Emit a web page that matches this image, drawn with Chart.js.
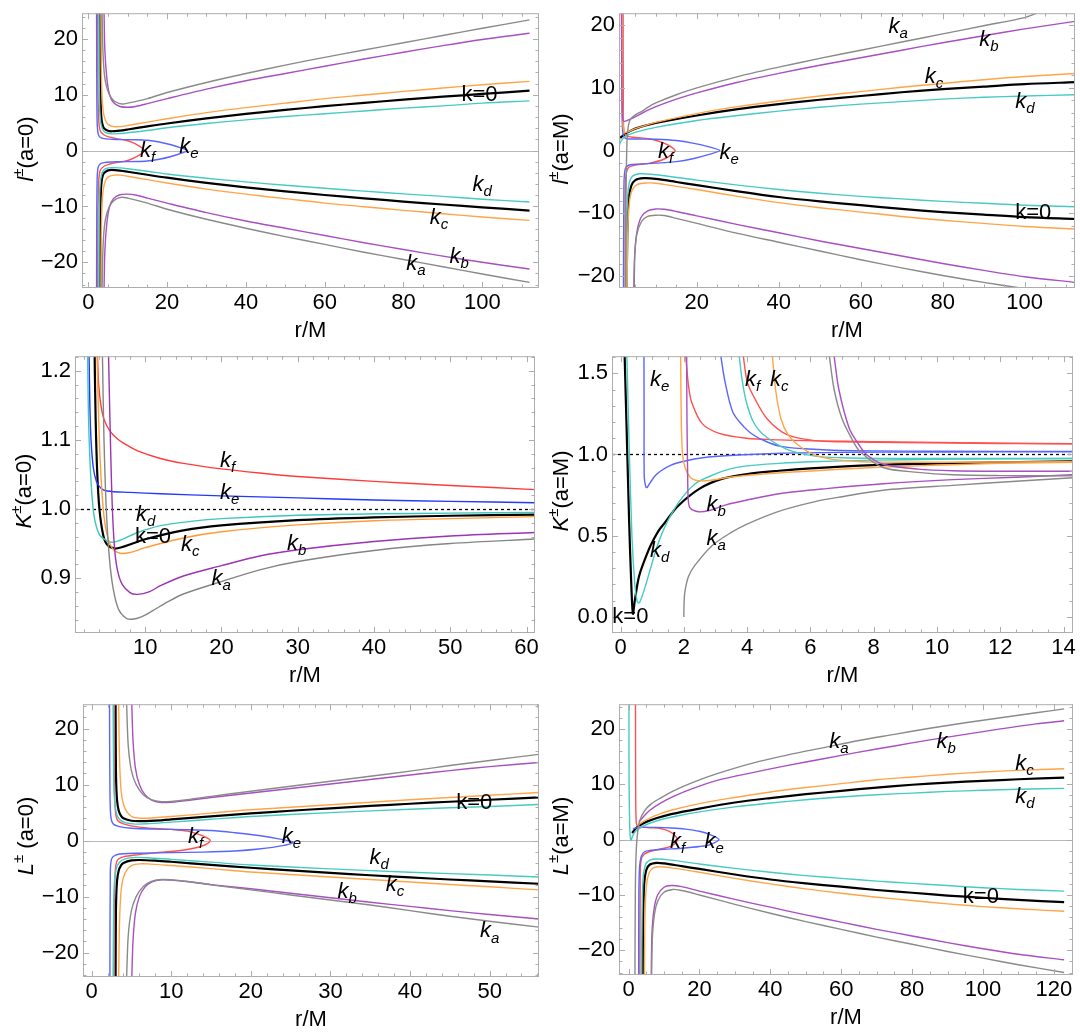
<!DOCTYPE html>
<html>
<head>
<meta charset="utf-8">
<script src="https://cdn.jsdelivr.net/npm/chart.js@4.4.1/dist/chart.umd.min.js"></script>
<style>
  html, body { margin: 0; padding: 0; background: #fff; }
  body { width: 1080px; height: 1034px; position: relative; overflow: hidden; }
  .panel { position: absolute; }
</style>
</head>
<body>
<script>
// ---- l±(a=0) ----
const lA0_ka_p = [[3.5,24.6],[3.7,18],[4.1,13.5],[4.8,11],[5.8,9.5],[7,8.7],[8.5,8.35],[10,8.5],[15,9.3],[20,10.4],[30,12.2],[40,13.8],[50,15.3],[60,16.7],[70,18.0],[80,19.3],[90,20.6],[100,21.9],[112,23.4]];
const lA0_ka_m = [[3.5,-24.6],[3.7,-18],[4.1,-13.5],[4.8,-11],[5.8,-9.5],[7,-8.7],[8.5,-8.35],[10,-8.5],[15,-9.4],[20,-10.5],[30,-12.3],[40,-13.9],[50,-15.4],[60,-16.8],[70,-18.2],[80,-19.5],[90,-20.8],[100,-22.1],[112,-23.6]];
const lA0_kb_p = [[4.0,24.6],[4.2,18],[4.7,13],[5.4,10],[6.4,8.6],[8,7.9],[10,7.75],[12,7.9],[15,8.4],[20,9.3],[30,11.0],[40,12.5],[50,13.8],[60,15.1],[70,16.4],[80,17.6],[90,18.8],[100,19.9],[112,21.0]];
const lA0_kb_m = [[4.0,-24.6],[4.2,-18],[4.7,-13],[5.4,-10],[6.4,-8.6],[8,-7.9],[10,-7.8],[12,-7.95],[15,-8.5],[20,-9.4],[30,-11.1],[40,-12.6],[50,-13.9],[60,-15.2],[70,-16.5],[80,-17.7],[90,-18.9],[100,-20.0],[112,-21.2]];
const lA0_kc_p = [[3.2,24.6],[3.3,15],[3.5,9.5],[3.8,7],[4.3,5.5],[5,4.7],[6.5,4.3],[8,4.3],[10,4.5],[15,5.1],[20,5.7],[30,6.8],[40,7.7],[50,8.5],[60,9.3],[70,9.95],[80,10.6],[90,11.2],[100,11.8],[112,12.4]];
const lA0_kc_m = [[3.2,-24.6],[3.3,-15],[3.5,-9.5],[3.8,-7],[4.3,-5.5],[5,-4.75],[6.5,-4.4],[8,-4.4],[10,-4.6],[15,-5.2],[20,-5.8],[30,-6.9],[40,-7.8],[50,-8.6],[60,-9.4],[70,-10.05],[80,-10.7],[90,-11.3],[100,-11.9],[112,-12.5]];
const lA0_k0_p = [[3.015,24.6],[3.02,21.4],[3.05,13.6],[3.1,9.8],[3.2,7.16],[3.4,5.38],[3.7,4.42],[4,4.0],[5,3.54],[6,3.46],[8,3.58],[10,3.78],[15,4.33],[20,4.85],[30,5.77],[40,6.58],[50,7.29],[60,7.95],[70,8.55],[80,9.12],[90,9.65],[100,10.15],[112,10.73]];
const lA0_k0_m = [[3.015,-24.6],[3.02,-21.4],[3.05,-13.6],[3.1,-9.8],[3.2,-7.16],[3.4,-5.38],[3.7,-4.42],[4,-4.0],[5,-3.54],[6,-3.46],[8,-3.58],[10,-3.78],[15,-4.33],[20,-4.85],[30,-5.77],[40,-6.58],[50,-7.29],[60,-7.95],[70,-8.55],[80,-9.12],[90,-9.65],[100,-10.15],[112,-10.73]];
const lA0_kd_p = [[2.7,24.6],[2.75,14],[2.85,8.5],[3.0,6],[3.3,4.5],[3.8,3.6],[4.5,3.2],[6,3.0],[8,3.05],[10,3.2],[15,3.6],[20,4.1],[30,4.85],[40,5.5],[50,6.1],[60,6.6],[70,7.1],[80,7.6],[90,8.0],[100,8.5],[112,8.9]];
const lA0_kd_m = [[2.7,-24.6],[2.75,-14],[2.85,-8.5],[3.0,-6],[3.3,-4.5],[3.8,-3.6],[4.5,-3.2],[6,-3.05],[8,-3.1],[10,-3.25],[15,-3.7],[20,-4.2],[30,-4.95],[40,-5.6],[50,-6.2],[60,-6.75],[70,-7.25],[80,-7.75],[90,-8.2],[100,-8.7],[112,-9.2]];
const lA0_ke = [[2.1,24.6],[2.15,12],[2.25,5],[2.5,3.0],[3,2.4],[4,2.15],[7,2.0],[12,1.95],[15,1.85],[18,1.55],[21,1.05],[23.5,0.5],[25.2,0],[23.5,-0.5],[21,-1.05],[18,-1.55],[15,-1.85],[12,-1.95],[7,-2.0],[4,-2.15],[3,-2.4],[2.5,-3.0],[2.25,-5],[2.15,-12],[2.1,-24.6]];
const lA0_kf = [[2.4,24.6],[2.45,12],[2.6,6],[3,3.6],[4,2.8],[5.5,2.4],[7.5,2.1],[9.5,1.85],[11,1.5],[12.5,1.0],[13.6,0.5],[14.2,0],[13.6,-0.5],[12.5,-1.0],[11,-1.5],[9.5,-1.85],[7.5,-2.1],[5.5,-2.4],[4,-2.8],[3,-3.6],[2.6,-6],[2.45,-12],[2.4,-24.6]];
const lA0_tags = [['0',94.7,9.9],['d',97.5,-6.1],['c',86.7,-12.0],['b',91.7,-19.1],['a',80.7,-20.3],['f',13.1,0],['e',23.1,0.7]];

// ---- l±(a=M) ----
const lAM_ka_p = [[2.6,-21.9],[2.65,-12],[2.75,-5],[2.85,-1],[3.0,2],[3.3,4],[3.8,5.0],[5,5.7],[6.7,6.3],[8,6.9],[10,7.6],[15,8.9],[20,10.0],[30,11.8],[40,13.3],[50,14.7],[60,16.0],[70,17.3],[80,18.6],[90,19.9],[100,21.2],[103,21.9]];
const lAM_ka_m = [[4.6,-21.9],[4.8,-17],[5.3,-13.5],[6.5,-11.3],[8,-10.5],[10,-10.3],[12,-10.35],[15,-10.8],[20,-11.6],[30,-13.2],[40,-14.6],[50,-16.0],[60,-17.4],[70,-18.7],[80,-19.9],[90,-21.0],[99,-21.9]];
const lAM_kb_p = [[1.6,21.9],[1.7,10],[1.85,5.5],[2.1,4.7],[3,4.8],[5,5.4],[7,6.1],[10,7.0],[15,8.2],[20,9.2],[30,10.9],[40,12.3],[50,13.6],[60,14.8],[70,16.0],[80,17.2],[90,18.3],[100,19.4],[112.3,20.6]];
const lAM_kb_m = [[4.7,-21.9],[4.9,-16],[5.5,-12.5],[6.5,-10.5],[8,-9.6],[10,-9.3],[12,-9.35],[15,-9.7],[20,-10.4],[30,-11.8],[40,-13.1],[50,-14.4],[60,-15.6],[70,-16.8],[80,-18.0],[90,-19.1],[100,-20.1],[112.3,-21.0]];
const lAM_kc_p = [[1.75,21.9],[1.8,10],[1.95,4.5],[2.3,3.0],[3,2.95],[5,3.5],[10,4.5],[20,5.9],[30,7.0],[40,7.9],[50,8.7],[60,9.4],[70,10.1],[80,10.7],[90,11.3],[100,11.8],[112.3,12.3]];
const lAM_kc_m = [[3.0,-21.9],[3.1,-14],[3.5,-8.5],[4.2,-6.3],[5.5,-5.4],[8,-5.15],[10,-5.2],[15,-5.7],[20,-6.2],[30,-7.3],[40,-8.3],[50,-9.1],[60,-9.8],[70,-10.5],[80,-11.1],[90,-11.6],[100,-12.1],[112.3,-12.5]];
const lAM_k0_p = [[1.0,1.85],[1.5,2.15],[2,2.4],[3,2.85],[5,3.5],[10,4.4],[20,5.6],[30,6.6],[40,7.4],[50,8.1],[60,8.7],[70,9.3],[80,9.8],[90,10.2],[100,10.6],[112.3,10.9]];
const lAM_k0_m = [[2.9,-21.9],[3.0,-14],[3.3,-8],[4,-5.6],[5,-4.7],[7,-4.4],[10,-4.5],[15,-5.0],[20,-5.5],[30,-6.5],[40,-7.4],[50,-8.1],[60,-8.7],[70,-9.3],[80,-9.8],[90,-10.2],[100,-10.6],[112.3,-10.9]];
const lAM_kd_p = [[1.0,0.7],[1.5,1.5],[2.5,2.25],[4,2.7],[6,3.1],[10,3.7],[20,4.8],[30,5.6],[40,6.3],[50,6.9],[60,7.4],[70,7.8],[80,8.2],[90,8.5],[100,8.7],[112.3,8.9]];
const lAM_kd_m = [[2.8,-21.9],[2.9,-12],[3.2,-6.5],[4,-4.3],[6,-3.7],[10,-3.85],[20,-4.7],[30,-5.5],[40,-6.2],[50,-6.8],[60,-7.3],[70,-7.7],[80,-8.1],[90,-8.4],[100,-8.7],[112.3,-8.95]];
const lAM_ke = [[1.7,21.9],[1.75,8],[1.9,3],[2.5,2.0],[5,1.85],[10,1.8],[15,1.6],[19,1.2],[23,0.6],[25.6,0],[23,-0.6],[19,-1.3],[15,-1.75],[10,-2.0],[6,-2.15],[3.5,-2.3],[2.5,-3.0],[2.2,-6],[2.1,-21.9]];
const lAM_kf = [[2.0,21.9],[2.05,8],[2.2,3.2],[3,2.3],[6,2.05],[9,1.8],[11.5,1.3],[13.5,0.7],[14.7,0],[13.5,-0.8],[11.5,-1.5],[8.5,-2.0],[5,-2.3],[3.2,-2.8],[2.6,-5],[2.5,-21.9]];
const lAM_tags = [['a',66.8,19.7],['b',88.9,17.7],['c',75.6,11.8],['d',97.7,7.8],['0',97.7,-9.95],['f',10.5,-0.26],['e',25.5,-0.4]];

// ---- K±(a=0) ----
const KA0_kf = [[3.75,1.221],[3.9,1.18],[4.2,1.15],[4.6,1.13],[5.3,1.114],[6.3,1.102],[7.5,1.093],[9,1.084],[12,1.073],[15,1.066],[20,1.058],[25,1.052],[30,1.047],[40,1.04],[50,1.034],[61.1,1.028]];
const KA0_ke = [[2.65,1.221],[2.75,1.15],[2.9,1.1],[3.2,1.06],[3.6,1.04],[4.2,1.03],[5,1.026],[8,1.024],[12,1.022],[20,1.019],[30,1.016],[40,1.013],[50,1.011],[61.1,1.009]];
const KA0_kd = [[2.45,1.221],[2.6,1.12],[2.9,1.04],[3.3,0.99],[4,0.963],[5,0.954],[5.8,0.952],[7,0.956],[9,0.966],[12,0.976],[16,0.982],[20,0.986],[30,0.991],[40,0.993],[50,0.994],[61.1,0.995]];
const KA0_k0 = [[3.38,1.221],[3.4,1.2],[3.5,1.134],[3.7,1.056],[4,1.0],[4.5,0.962],[5,0.9487],[6,0.9428],[7,0.945],[8,0.9487],[10,0.9562],[15,0.969],[20,0.9762],[30,0.9838],[40,0.9878],[50,0.9902],[61.1,0.9919]];
const KA0_kc = [[3.7,1.221],[3.85,1.15],[4.1,1.07],[4.5,1.0],[5,0.963],[5.7,0.943],[6.7,0.936],[8,0.937],[10,0.944],[15,0.958],[20,0.967],[30,0.977],[40,0.983],[50,0.986],[61.1,0.989]];
const KA0_ka = [[4.4,1.221],[4.6,1.1],[4.9,1.0],[5.3,0.93],[5.8,0.885],[6.5,0.855],[7.5,0.842],[8.3,0.8405],[9.5,0.844],[11,0.853],[13,0.866],[15,0.877],[20,0.895],[25,0.912],[30,0.924],[40,0.94],[50,0.95],[61.1,0.9565]];
const KA0_kb = [[5.2,1.221],[5.4,1.12],[5.7,1.0],[6.1,0.93],[6.8,0.895],[8,0.879],[9,0.8765],[10.5,0.88],[12,0.889],[15,0.903],[20,0.918],[25,0.932],[30,0.941],[40,0.953],[50,0.961],[61.1,0.966]];
const KA0_tags = [['f',19.8,1.069],['e',19.8,1.023],['d',8.8,0.9916],['0',8.65,0.960],['c',14.7,0.9486],['b',28.6,0.9495],['a',18.7,0.8995]];

// ---- K±(a=M) ----
const KAM_k0 = [[0.13,1.605],[0.2,1.1],[0.27,0.6],[0.33,0.25],[0.39,0.02],[0.45,0.1],[0.55,0.22],[0.63,0.28],[0.8,0.37],[0.95,0.44],[1.2,0.53],[1.4,0.58],[1.8,0.68],[2.5,0.79],[3.2,0.85],[4,0.88],[5,0.9],[6,0.915],[8,0.935],[10,0.945],[12,0.952],[14.3,0.958]];
const KAM_kd1 = [[0.2,1.605],[0.28,1.0],[0.36,0.5],[0.45,0.2],[0.52,0.1],[0.58,0.085],[0.65,0.11],[0.8,0.2],[0.95,0.3],[1.15,0.43],[1.39,0.55],[1.82,0.70],[2.36,0.82],[3,0.88],[3.44,0.91],[4,0.93],[5,0.945],[6,0.955],[8,0.965],[10,0.97],[14.3,0.975]];
const KAM_kd2 = [[3.75,1.605],[3.85,1.45],[3.98,1.32],[4.2,1.2],[4.53,1.12],[5.28,1.03],[6.15,0.99],[7,0.98],[8.3,0.976],[10,0.975],[14.3,0.975]];
const KAM_ke1 = [[0.74,1.605],[0.745,1.2],[0.75,0.86],[0.8,0.8],[0.84,0.797],[0.95,0.83],[1.1,0.87],[1.28,0.9],[1.6,0.935],[2.04,0.96],[2.6,0.98],[3.44,0.994],[5.07,1.008],[7,1.013],[10,1.015],[14.3,1.017]];
const KAM_ke2 = [[3.17,1.605],[3.3,1.45],[3.55,1.26],[3.9,1.17],[4.2,1.12],[4.6,1.08],[5.07,1.05],[5.8,1.035],[6.7,1.026],[8,1.022],[10,1.02],[14.3,1.019]];
const KAM_kc1 = [[1.9,1.605],[1.92,1.2],[1.96,1.0],[2.04,0.92],[2.2,0.86],[2.41,0.84],[2.8,0.84],[3.44,0.86],[4.5,0.88],[6.15,0.9],[8,0.92],[9.4,0.93],[12,0.945],[14.3,0.952]];
const KAM_kc2 = [[4.8,1.605],[4.9,1.4],[5.07,1.22],[5.3,1.12],[5.6,1.06],[6.1,1.0],[6.7,0.97],[7.5,0.957],[8.3,0.953],[10,0.952],[14.3,0.955]];
const KAM_kb1 = [[2.09,1.605],[2.1,1.2],[2.12,0.9],[2.14,0.72],[2.2,0.67],[2.47,0.647],[2.8,0.655],[3.33,0.69],[4,0.72],[5.07,0.76],[6.5,0.79],[8.3,0.82],[10.5,0.845],[12.5,0.86],[14.3,0.875]];
const KAM_kb2 = [[6.75,1.605],[6.9,1.4],[7.23,1.16],[7.5,1.07],[7.77,1.0],[8.3,0.94],[9.4,0.91],[10.5,0.9],[12,0.897],[14.3,0.897]];
const KAM_ka1 = [[2.0,0.0],[2.01,0.1],[2.04,0.163],[2.15,0.25],[2.36,0.32],[2.9,0.44],[3.5,0.52],[3.98,0.57],[5,0.65],[6.15,0.71],[7,0.74],[8.3,0.78],[10.5,0.81],[12.5,0.835],[14.3,0.857]];
const KAM_ka2 = [[6.6,1.605],[6.75,1.4],[7.0,1.22],[7.3,1.1],[7.56,1.02],[8.3,0.92],[9.4,0.89],[10.5,0.875],[12,0.87],[14.3,0.868]];
const KAM_kf1 = [[2.06,1.605],[2.15,1.42],[2.25,1.32],[2.58,1.19],[3.12,1.13],[3.98,1.1],[5,1.09],[6.15,1.084],[8,1.079],[9.4,1.076],[12,1.07],[14.3,1.066]];
const KAM_kf2 = [[3.88,1.605],[4.0,1.45],[4.2,1.36],[4.63,1.22],[5.28,1.12],[6.15,1.085],[7,1.078],[9,1.073],[12,1.068],[14.3,1.066]];
const KAM_tags = [['e',0.93,1.462],['f',3.93,1.462],['c',4.72,1.462],['b',2.72,0.691],['a',2.72,0.482],['d',0.93,0.406],['0',-0.26,0.0]];

// ---- L±(a=0) ----
const LA0_ka_p = [[4.4,24.35],[4.6,17],[5,12.5],[5.6,10],[6.5,8.2],[7.5,7.3],[8.8,6.95],[10,7.0],[12,7.3],[15,7.9],[20,8.8],[25,9.7],[30,10.6],[35,11.5],[40,12.4],[45,13.4],[50,14.3],[56.2,15.4]];
const LA0_ka_m = [[4.4,-24.35],[4.6,-17],[5,-12.5],[5.6,-10],[6.5,-8.2],[7.5,-7.3],[8.8,-6.95],[10,-7.0],[12,-7.3],[15,-7.9],[20,-8.8],[25,-9.7],[30,-10.6],[35,-11.5],[40,-12.5],[45,-13.5],[50,-14.4],[56.2,-15.45]];
const LA0_kb_p = [[5.05,24.35],[5.2,18],[5.5,13],[6,10],[6.7,8.2],[7.6,7.2],[8.8,6.8],[10,6.85],[12,7.15],[15,7.7],[20,8.5],[25,9.3],[30,10.1],[35,10.9],[40,11.7],[45,12.5],[50,13.2],[56.2,13.95]];
const LA0_kb_m = [[5.05,-24.35],[5.2,-18],[5.5,-13],[6,-10],[6.7,-8.3],[7.6,-7.35],[8.8,-7.0],[10,-7.05],[12,-7.3],[15,-7.85],[20,-8.6],[25,-9.4],[30,-10.2],[35,-11.0],[40,-11.75],[45,-12.5],[50,-13.2],[56.2,-14.0]];
const LA0_kc_p = [[3.4,24.35],[3.5,15],[3.7,9],[4,6.5],[4.5,5],[5.2,4.2],[6,4.0],[7,4.0],[10,4.3],[15,4.9],[20,5.5],[30,6.4],[40,7.3],[50,8.1],[56.2,8.6]];
const LA0_kc_m = [[3.4,-24.35],[3.5,-15],[3.7,-9],[4,-6.6],[4.5,-5.1],[5.2,-4.35],[6,-4.15],[7,-4.15],[10,-4.45],[15,-5.0],[20,-5.6],[30,-6.5],[40,-7.4],[50,-8.25],[56.2,-8.8]];
const LA0_k0_p = [[3.015,24.35],[3.02,21.4],[3.05,13.6],[3.1,9.8],[3.2,7.16],[3.4,5.38],[3.7,4.42],[4,4.0],[5,3.54],[6,3.46],[8,3.58],[10,3.78],[15,4.33],[20,4.85],[25,5.33],[30,5.77],[35,6.19],[40,6.58],[45,6.94],[50,7.29],[56.2,7.7]];
const LA0_k0_m = [[3.015,-24.35],[3.02,-21.4],[3.05,-13.6],[3.1,-9.8],[3.2,-7.16],[3.4,-5.38],[3.7,-4.42],[4,-4.0],[5,-3.54],[6,-3.46],[8,-3.58],[10,-3.78],[15,-4.33],[20,-4.85],[25,-5.33],[30,-5.77],[35,-6.19],[40,-6.58],[45,-6.94],[50,-7.29],[56.2,-7.7]];
const LA0_kd_p = [[2.7,24.35],[2.75,14],[2.85,8],[3.1,5],[3.5,3.8],[4.2,3.2],[5.5,2.95],[7,3.0],[10,3.3],[15,3.8],[20,4.3],[30,5.0],[40,5.6],[50,6.1],[56.2,6.45]];
const LA0_kd_m = [[2.7,-24.35],[2.75,-14],[2.85,-8],[3.1,-5],[3.5,-3.85],[4.2,-3.25],[5.5,-3.0],[7,-3.05],[10,-3.35],[15,-3.85],[20,-4.35],[30,-5.05],[40,-5.65],[50,-6.15],[56.2,-6.5]];
const LA0_ke = [[2.25,24.35],[2.3,10],[2.4,4.5],[2.7,3.0],[3.5,2.5],[5,2.2],[8,2.05],[12,1.95],[15,1.8],[18,1.4],[21,0.9],[23.5,0.3],[25.3,-0.3],[24,-0.9],[21,-1.5],[18,-1.85],[14,-2.05],[10,-2.15],[6,-2.25],[4,-2.35],[3,-2.6],[2.5,-3.3],[2.35,-6],[2.3,-24.35]];
const LA0_kf = [[2.8,24.35],[2.85,12],[2.95,6],[3.2,3.8],[4,3.0],[6,2.4],[8,2.15],[10,2.0],[12,1.7],[13.5,1.1],[14.5,0.5],[14.9,0],[14.5,-0.6],[13.5,-1.15],[12,-1.6],[10,-1.95],[8,-2.2],[6,-2.5],[4,-2.9],[3.2,-3.6],[2.95,-6],[2.85,-12],[2.8,-24.35]];
const LA0_tags = [['0',45.8,6.74],['d',34.9,-3.05],['c',36.95,-7.95],['b',30.9,-9.1],['a',48.8,-16.2],['f',12.1,0.7],['e',23.9,0.7]];

// ---- L±(a=M) ----
const LAM_ka_p = [[1.8,-24.45],[1.9,-10],[2.1,-3],[2.5,1],[3.2,3.5],[4.5,5.2],[6.5,6.5],[9,7.5],[13,8.9],[18,10.3],[25,11.9],[35,13.8],[45,15.3],[55,16.6],[65,17.9],[75,19.0],[85,20.1],[95,21.1],[105,22.0],[115,22.9],[122.9,23.6]];
const LAM_ka_m = [[6.5,-24.45],[6.7,-18],[7.3,-13.5],[8.3,-11],[10,-9.5],[12.5,-9.0],[15,-9.2],[20,-10.0],[30,-11.7],[40,-13.3],[50,-14.8],[60,-16.2],[70,-17.6],[80,-18.9],[90,-20.2],[100,-21.4],[110,-22.6],[122.9,-24.0]];
const LAM_kb_p = [[2.9,3.2],[4,4.0],[6,5.3],[9,6.6],[13,7.9],[18,9.2],[25,10.7],[35,12.1],[45,13.4],[55,14.6],[65,15.8],[75,16.9],[85,18.0],[95,19.0],[105,20.0],[115,20.9],[122.9,21.45]];
const LAM_kb_m = [[6.4,-24.45],[6.6,-17],[7.2,-12.5],[8.2,-10],[10,-8.6],[12,-8.3],[15,-8.5],[20,-9.3],[30,-10.8],[40,-12.2],[50,-13.6],[60,-14.9],[70,-16.2],[80,-17.4],[90,-18.6],[100,-19.7],[110,-20.7],[122.9,-21.7]];
const LAM_kc_p = [[2.5,2.7],[3,2.8],[4,3.2],[7,4.2],[12,5.3],[20,6.5],[30,7.6],[40,8.6],[50,9.4],[60,10.1],[70,10.8],[80,11.3],[90,11.8],[100,12.2],[110,12.5],[122.9,12.8]];
const LAM_kc_m = [[4.5,-24.45],[4.6,-15],[5,-8.5],[5.8,-6],[7,-5.1],[9,-4.9],[12,-5.1],[20,-5.9],[30,-7.0],[40,-8.0],[50,-8.9],[60,-9.7],[70,-10.4],[80,-11.0],[90,-11.6],[100,-12.1],[110,-12.5],[122.9,-12.95]];
const LAM_k0_p = [[1.0,1.2],[2,2.0],[3,2.5],[5,3.2],[8,3.9],[12,4.6],[20,5.6],[30,6.7],[40,7.5],[50,8.2],[60,8.8],[70,9.4],[80,9.9],[90,10.3],[100,10.6],[110,10.9],[122.9,11.2]];
const LAM_k0_m = [[4.0,-24.45],[4.1,-15],[4.4,-8],[5,-5.5],[6,-4.5],[8,-4.2],[10,-4.3],[15,-4.8],[20,-5.3],[30,-6.3],[40,-7.2],[50,-7.9],[60,-8.5],[70,-9.1],[80,-9.6],[90,-10.1],[100,-10.5],[110,-10.9],[122.9,-11.3]];
const LAM_kd_p = [[0.1,24.45],[0.15,10],[0.3,3],[0.5,0.3],[0.75,-0.1],[1.1,0.6],[2,1.5],[4,2.4],[8,3.4],[14,4.3],[20,5.0],[30,5.9],[40,6.6],[50,7.2],[60,7.7],[70,8.1],[80,8.4],[90,8.7],[100,8.9],[110,9.1],[122.9,9.25]];
const LAM_kd_m = [[3.7,-24.45],[3.8,-14],[4.1,-7],[4.8,-4.5],[6,-3.7],[8,-3.5],[12,-3.7],[20,-4.4],[30,-5.2],[40,-5.9],[50,-6.5],[60,-7.0],[70,-7.5],[80,-7.9],[90,-8.3],[100,-8.7],[110,-9.0],[122.9,-9.3]];
const LAM_ke = [[1.2,1.9],[2,2.1],[4,2.2],[8,2.2],[12,2.1],[16,1.9],[20,1.5],[23,0.9],[25.5,0],[23,-0.9],[20,-1.25],[15,-1.55],[10,-1.75],[6,-1.95],[4.5,-2.2],[3.6,-3.0],[3.1,-5],[2.9,-10],[2.85,-24.45]];
const LAM_kf = [[1.95,24.45],[2.0,10],[2.1,4],[2.35,2.6],[3.5,2.3],[6,2.15],[9,2.0],[11.5,1.5],[13,0.8],[13.8,0],[13,-0.8],[11.5,-1.3],[9,-1.7],[6,-2.15],[4.5,-2.6],[3.6,-3.5],[3.3,-6],[3.2,-24.45]];
const LAM_tags = [['a',56.6,17.6],['b',86.9,17.6],['c',109.1,13.7],['d',109.1,7.7],['0',94.3,-10.3],['f',11.7,-0.4],['e',21.4,-0.4]];

const FONT = '"Liberation Sans", Arial, Helvetica, sans-serif';
const COL = { a: '#8a8a8a', b: '#a84fc2', c: '#ffa447', d: '#46cbc2', e: '#5865ff', f: '#ff5050', '0': '#000000' };
const COL_K = { a: '#858585', b: '#9c32b4', c: '#ff9c36', d: '#3fc6bc', e: '#2438ff', f: '#ff3c3c', '0': '#000000' };

const panels = [
  { frame: [82, 6, 539, 288], x: [-1.6, 114.4], y: [-24.6, 24.6], xs: [20, 5], ys: [10, 2], dec: 0, base: 0, pal: COL,
    title: [['l', 'i'], ['±', 'sup'], ['(a=0)', '']], tcx: 27, tcy: 149,
    series: [[lA0_ka_p, 'a'], [lA0_ka_m, 'a'], [lA0_kb_p, 'b'], [lA0_kb_m, 'b'], [lA0_kc_p, 'c'], [lA0_kc_m, 'c'],
             [lA0_kd_p, 'd'], [lA0_kd_m, 'd'], [lA0_ke, 'e'], [lA0_kf, 'f'], [lA0_k0_p, '0'], [lA0_k0_m, '0']],
    tags: lA0_tags },
  { frame: [619, 6, 1075, 288], x: [1.0, 112.3], y: [-21.9, 21.9], xs: [20, 5], ys: [10, 2], dec: 0, base: 0, pal: COL,
    title: [['l', 'i'], ['±', 'sup'], ['(a=M)', '']], tcx: 562, tcy: 149,
    series: [[lAM_ka_p, 'a'], [lAM_ka_m, 'a'], [lAM_kb_p, 'b'], [lAM_kb_m, 'b'], [lAM_kc_p, 'c'], [lAM_kc_m, 'c'],
             [lAM_kd_p, 'd'], [lAM_kd_m, 'd'], [lAM_ke, 'e'], [lAM_kf, 'f'], [lAM_k0_p, '0'], [lAM_k0_m, '0']],
    tags: lAM_tags },
  { frame: [75, 349, 535, 633], x: [0.8, 61.1], y: [0.8206, 1.221], xs: [10, 2], ys: [0.1, 0.02], dec: 1, base: 1, pal: COL_K,
    title: [['K', 'i'], ['±', 'sup'], ['(a=0)', '']], tcx: 25, tcy: 491,
    series: [[KA0_ka, 'a'], [KA0_kb, 'b'], [KA0_kc, 'c'], [KA0_kd, 'd'], [KA0_ke, 'e'], [KA0_kf, 'f'], [KA0_k0, '0']],
    tags: KA0_tags },
  { frame: [612, 349, 1073, 633], x: [-0.27, 14.3], y: [-0.099, 1.605], xs: [2, 0.5], ys: [0.5, 0.1], dec: 1, base: 1, pal: COL,
    title: [['K', 'i'], ['±', 'sup'], ['(a=M)', '']], tcx: 562, tcy: 491,
    series: [[KAM_ka1, 'a'], [KAM_ka2, 'a'], [KAM_kb1, 'b'], [KAM_kb2, 'b'], [KAM_kc1, 'c'], [KAM_kc2, 'c'],
             [KAM_kd1, 'd'], [KAM_kd2, 'd'], [KAM_ke1, 'e'], [KAM_ke2, 'e'], [KAM_kf1, 'f'], [KAM_kf2, 'f'], [KAM_k0, '0']],
    tags: KAM_tags },
  { frame: [83, 697, 539, 977], x: [-1.08, 56.2], y: [-24.35, 24.35], xs: [10, 2], ys: [10, 2], dec: 0, base: 0, pal: COL,
    title: [['L', 'i'], ['±', 'sup'], [' (a=0)', '']], tcx: 27, tcy: 836,
    series: [[LA0_ka_p, 'a'], [LA0_ka_m, 'a'], [LA0_kb_p, 'b'], [LA0_kb_m, 'b'], [LA0_kc_p, 'c'], [LA0_kc_m, 'c'],
             [LA0_kd_p, 'd'], [LA0_kd_m, 'd'], [LA0_ke, 'e'], [LA0_kf, 'f'], [LA0_k0_p, '0'], [LA0_k0_m, '0']],
    tags: LA0_tags },
  { frame: [619, 697, 1073, 975], x: [-2.7, 125.4], y: [-24.45, 24.45], xs: [20, 5], ys: [10, 2], dec: 0, base: 0, pal: COL,
    title: [['L', 'i'], ['±', 'sup'], ['(a=M)', '']], tcx: 562, tcy: 836,
    series: [[LAM_ka_p, 'a'], [LAM_ka_m, 'a'], [LAM_kb_p, 'b'], [LAM_kb_m, 'b'], [LAM_kc_p, 'c'], [LAM_kc_m, 'c'],
             [LAM_kd_p, 'd'], [LAM_kd_m, 'd'], [LAM_ke, 'e'], [LAM_kf, 'f'], [LAM_k0_p, '0'], [LAM_k0_m, '0']],
    tags: LAM_tags },
];

// draws mixed italic / superscript / subscript text, starting at x (or centred on it)
function drawRich(ctx, parts, x, y, size, centre) {
  const segs = parts.map(([t, s]) => {
    const small = s === 'sup' || s === 'isub';
    const fs = small ? Math.round(size * 0.68) : size;
    const font = (s === 'i' || s === 'isub' ? 'italic ' : '') + fs + 'px ' + FONT;
    ctx.font = font;
    const dy = s === 'sup' ? -size * 0.36 : s === 'isub' ? size * 0.32 : 0;
    return { t, font, dy, w: ctx.measureText(t).width };
  });
  const total = segs.reduce((a, s) => a + s.w, 0);
  let cx = centre ? x - total / 2 : x;
  ctx.textAlign = 'left';
  ctx.textBaseline = 'middle';
  for (const s of segs) {
    ctx.font = s.font;
    ctx.fillText(s.t, cx, y + s.dy);
    cx += s.w;
  }
}

const PAD_L = 70, PAD_T = 10, PAD_R = 10, PAD_B = 55;
const TXT = 22;

function makePanel(p) {
  const [L, T, R, B] = p.frame;
  const w = R - L + PAD_L + PAD_R, h = B - T + PAD_T + PAD_B;
  const ox = L - PAD_L, oy = T - PAD_T;
  const box = document.createElement('div');
  box.className = 'panel';
  box.style.left = ox + 'px';
  box.style.top = oy + 'px';
  const cv = document.createElement('canvas');
  cv.width = w; cv.height = h;
  cv.style.width = w + 'px'; cv.style.height = h + 'px';
  box.appendChild(cv);
  document.body.appendChild(box);

  const fmtX = v => String(Math.round(v)).replace('-', '\u2212');
  const fmtY = v => (p.dec ? Number(v).toFixed(p.dec) : String(Math.round(v))).replace('-', '\u2212');

  const decor = {
    id: 'decor' + L + T,
    beforeDatasetsDraw(chart) {
      const { ctx, chartArea: a, scales: { y } } = chart;
      ctx.save();
      if (p.base === 0) {
        const py = Math.round(y.getPixelForValue(0)) + 0.5;
        ctx.strokeStyle = '#b9b9b9';
        ctx.lineWidth = 1.2;
        ctx.beginPath(); ctx.moveTo(a.left, py); ctx.lineTo(a.right, py); ctx.stroke();
      } else {
        const py = Math.round(y.getPixelForValue(1)) + 0.5;
        ctx.strokeStyle = '#000';
        ctx.lineWidth = 1.3;
        ctx.setLineDash([3, 3]);
        ctx.beginPath(); ctx.moveTo(a.left, py); ctx.lineTo(a.right, py); ctx.stroke();
      }
      ctx.restore();
    },
    afterDatasetsDraw(chart) {
      const { ctx, chartArea: a, scales: { x, y } } = chart;
      ctx.save();
      // frame with inward ticks on all sides
      ctx.strokeStyle = '#adadad';
      ctx.lineWidth = 1;
      ctx.strokeRect(a.left + 0.5, a.top + 0.5, a.right - a.left - 1, a.bottom - a.top - 1);
      ctx.beginPath();
      const ticks = (sc, [maj, mnr], horiz) => {
        const i0 = Math.ceil(sc.min / mnr - 1e-9), i1 = Math.floor(sc.max / mnr + 1e-9);
        for (let i = i0; i <= i1; i++) {
          const v = i * mnr;
          const isMaj = Math.abs(v / maj - Math.round(v / maj)) < 1e-6;
          const len = isMaj ? 6 : 3.5;
          const pix = Math.round(sc.getPixelForValue(v)) + 0.5;
          if (horiz) {
            ctx.moveTo(pix, a.bottom); ctx.lineTo(pix, a.bottom - len);
            ctx.moveTo(pix, a.top); ctx.lineTo(pix, a.top + len);
          } else {
            ctx.moveTo(a.left, pix); ctx.lineTo(a.left + len, pix);
            ctx.moveTo(a.right, pix); ctx.lineTo(a.right - len, pix);
          }
        }
      };
      ticks(x, p.xs, true);
      ticks(y, p.ys, false);
      ctx.stroke();

      ctx.fillStyle = '#000';
      // x title
      drawRich(ctx, [['r/M', '']], (a.left + a.right) / 2, a.bottom + 43, TXT, true);
      // y title (rotated)
      ctx.save();
      ctx.translate(p.tcx - ox, p.tcy - oy);
      ctx.rotate(-Math.PI / 2);
      drawRich(ctx, p.title, 0, 0, TXT, true);
      ctx.restore();
      // curve labels
      for (const [k, vx, vy] of p.tags) {
        const px = x.getPixelForValue(vx), py = y.getPixelForValue(vy);
        if (k === '0') drawRich(ctx, [['k=0', '']], px, py, TXT, false);
        else drawRich(ctx, [['k', 'i'], [k, 'isub']], px, py, TXT, false);
      }
      ctx.restore();
    }
  };

  new Chart(cv, {
    type: 'line',
    data: {
      datasets: p.series.map(([pts, key]) => ({
        data: pts.map(([vx, vy]) => ({ x: vx, y: vy })),
        borderColor: p.pal[key],
        borderWidth: key === '0' ? 2.2 : 1.4,
        pointRadius: 0,
        tension: 0.3,
        fill: false
      }))
    },
    options: {
      responsive: false,
      animation: false,
      events: [],
      layout: { padding: { left: 0, top: PAD_T, right: PAD_R, bottom: 0 } },
      plugins: { legend: { display: false }, tooltip: { enabled: false } },
      scales: {
        x: {
          type: 'linear', min: p.x[0], max: p.x[1],
          afterFit: s => { s.height = PAD_B; },
          grid: { display: false, drawTicks: false },
          border: { display: false },
          ticks: { stepSize: p.xs[0], includeBounds: false, maxRotation: 0, autoSkip: false, padding: 2,
                   color: '#000', font: { family: FONT, size: TXT }, callback: fmtX }
        },
        y: {
          type: 'linear', min: p.y[0], max: p.y[1],
          afterFit: s => { s.width = PAD_L; },
          grid: { display: false, drawTicks: false },
          border: { display: false },
          ticks: { stepSize: p.ys[0], includeBounds: false, autoSkip: false, padding: 4,
                   color: '#000', font: { family: FONT, size: TXT }, callback: fmtY }
        }
      }
    },
    plugins: [decor]
  });
}

panels.forEach(makePanel);
</script>
</body>
</html>
